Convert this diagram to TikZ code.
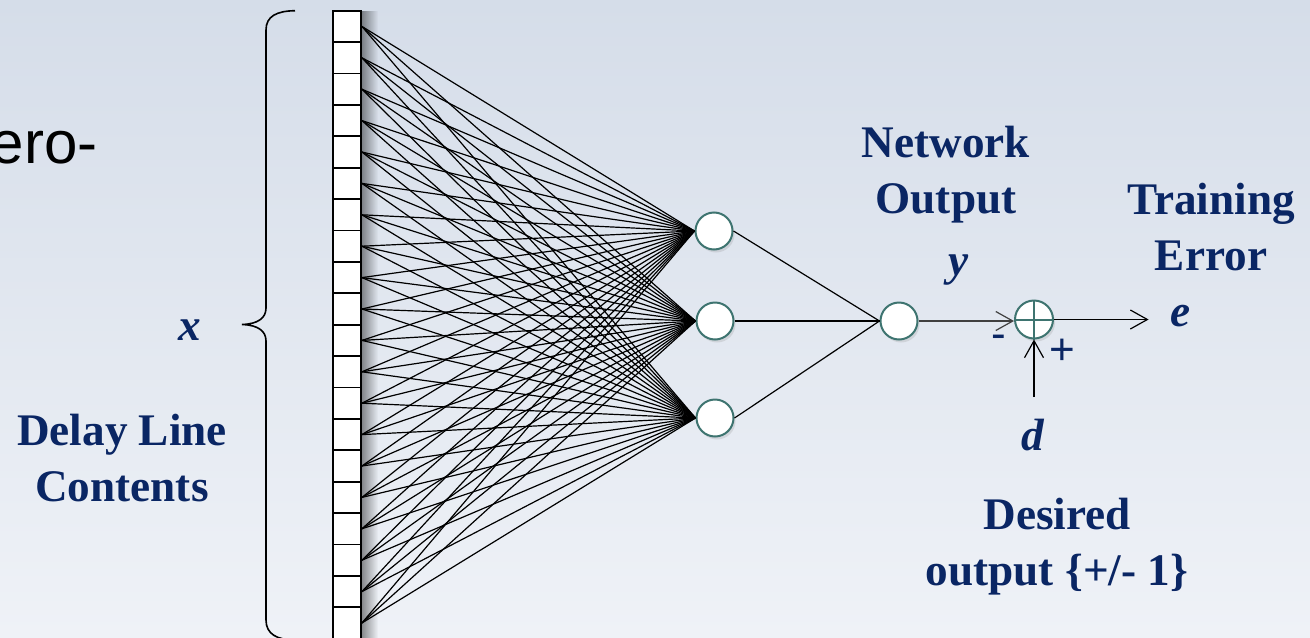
\documentclass[tikz,border=0pt]{standalone}
\usepackage{fontspec}
\setmainfont{Liberation Serif}
\newfontfamily\arialfont{Liberation Sans}
\usetikzlibrary{arrows.meta,positioning,calc,shadows,fadings}
\definecolor{navy}{RGB}{10,38,100}
\definecolor{tealring}{RGB}{62,116,112}
\definecolor{bgtop}{RGB}{213,221,233}
\definecolor{bgbot}{RGB}{239,242,247}
\tikzfading[name=fade cell, left color=transparent!55, right color=transparent!100]

\begin{document}
\begin{tikzpicture}[x=0.5pt, y=-0.5pt,
  every node/.style={font=\fontsize{22.6}{28}\selectfont\bfseries, text=navy, inner sep=2pt},
  var/.style={font=\fontsize{22.6}{28}\selectfont\bfseries\itshape, anchor=base},
  lbl/.style={align=center, anchor=base},
  cell/.style={draw, line width=0.9pt, fill=white, minimum width=14pt, minimum height=15.7pt, inner sep=0pt},
  unit/.style={draw=tealring, line width=1pt, circle, fill=white, minimum size=18.5pt, inner sep=0pt,
    drop shadow={shadow xshift=1pt, shadow yshift=-1.5pt, opacity=0.2}},
  wire/.style={line width=0.6pt},
  sig/.style={line width=0.7pt, -{Straight Barb[length=8.5pt,width=9.5pt,line width=0.6pt]}},
  sgn/.style={font=\arialfont\fontsize{22}{22}\selectfont, inner sep=0pt}]
  \useasboundingbox (0,0) rectangle (1310,637);
  \clip (0,0) rectangle (1310,637);
  \shade[top color=bgtop, bottom color=bgbot] (0,0) rectangle (1310,637);

  % tapped delay line
  \fill[black, path fading=fade cell] (361,10.7) rectangle (378,640);
  \foreach \i in {0,...,19}
    \node[cell] (c\i) at (347, {26.4+31.4*\i}) {};

  % hidden layer and output unit
  \node[unit] (h1) at (714,231) {};
  \node[unit] (h2) at (715,321) {};
  \node[unit] (h3) at (715,418) {};
  \node[unit] (out) at (899,321) {};
  \foreach \i in {0,...,19}
    \foreach \h in {1,2,3}
      \draw[wire] (c\i.east) -- (h\h.west);
  \foreach \h in {1,2,3}
    \draw[wire] (h\h.east) -- (out.west);

  % summing junction
  \node[unit, minimum size=19pt] (sum) at (1034,319.5) {};
  \draw[tealring, line width=1pt] (sum.north) -- (sum.south) (sum.west) -- (sum.east);
  \node[sgn] (minus) at (999,342) {-};
  \node[sgn] (plus) at (1062,352) {+};

  % labels (base of a two-line label is its last line)
  \node[sgn, text=black, anchor=base east, font=\arialfont\fontsize{30}{30}\selectfont] (cut) at (98,163) {ero-};
  \node[var] (xvar) at (190,340) {x};
  \node[lbl] (dlc) at (122,501.7) {Delay Line\\Contents};
  \node[lbl] (netout) at (946,213) {Network\\Output};
  \node[var] (yvar) at (959,275.5) {y};
  \node[lbl] (trerr) at (1211,270) {Training\\Error};
  \node[var] (evar) at (1181,326.7) {e};
  \node[var] (dvar) at (1033,450.7) {d};
  \node[lbl] (desired) at (1057,585) {Desired\\output \{+/- 1\}};
  \coordinate (dtop) at (1034,397);

  \draw[sig, draw=black!75] (out.east) -- (out.east -| sum.west);
  \draw[sig] (sum.east) -- ([xshift=-9pt]sum.east -| evar.west);
  \draw[sig] (dtop) -- (sum.south);

  % brace
  \draw[line width=0.8pt] (295,10.7) .. controls (277,11) and (266,16) .. (266,30) -- (266,308)
    .. controls (266,318) and (258,324) .. (242,324.5)
    .. controls (258,325) and (266,331) .. (266,341) -- (266,620)
    .. controls (266,634) and (277,640) .. (295,640);
\end{tikzpicture}
\end{document}
